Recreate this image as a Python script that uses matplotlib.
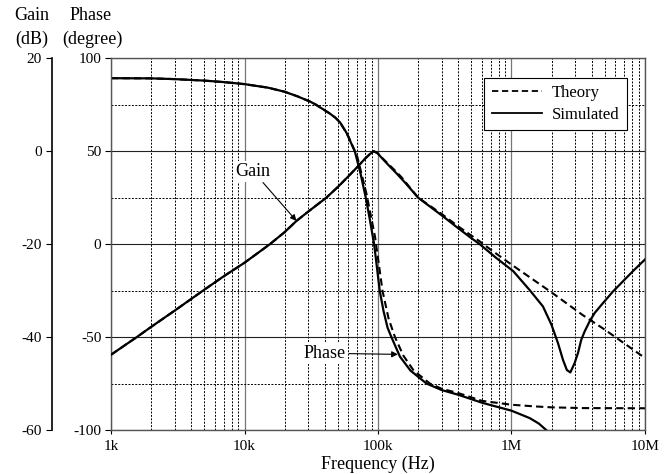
import matplotlib
matplotlib.use('Agg')
import matplotlib.pyplot as plt
from matplotlib.lines import Line2D
from matplotlib.ticker import MultipleLocator, LogLocator, NullFormatter
import numpy as np

plt.rcParams['font.family'] = ['Liberation Serif', 'DejaVu Serif']
plt.rcParams['axes.unicode_minus'] = False

# ---- data ----
gain_sim_f = [1e3, 1.56e3, 2e3, 3e3, 5e3, 7e3, 1e4, 1.55e4, 2e4, 2.45e4, 3e4, 4.1e4,
              5e4, 6e4, 7.1e4, 8e4, 8.7e4, 9.3e4, 9.9e4, 1.08e5, 1.2e5, 1.38e5, 1.6e5,
              2e5, 2.5e5, 3e5, 4e5, 5e5, 5.78e5, 7.71e5, 1.03e6, 1.37e6, 1.72e6, 1.99e6,
              2.23e6, 2.43e6, 2.6e6, 2.76e6, 2.97e6, 3.15e6, 3.33e6, 3.53e6, 3.85e6,
              4.2e6, 4.84e6, 5.75e6, 6.84e6, 8.13e6, 1e7]
gain_sim = [-43.8, -40.0, -37.8, -34.3, -29.8, -26.9, -24.0, -20.0, -17.4, -15.0, -13.0, -10.0,
            -7.7, -5.4, -3.2, -1.6, -0.6, 0.0, -0.4, -1.6, -3.0, -4.8, -6.8,
            -10.0, -12.1, -13.8, -16.6, -18.7, -20.0, -23.0, -25.8, -29.9, -33.4, -37.3,
            -41.3, -44.9, -47.1, -47.6, -45.6, -43.4, -40.6, -38.8, -36.6,
            -34.8, -32.7, -30.2, -28.0, -25.8, -23.3]

gain_th_f = [1e3, 1.56e3, 2e3, 3e3, 5e3, 7e3, 1e4, 1.55e4, 2e4, 2.45e4, 3e4, 4.1e4,
             5e4, 6e4, 7.1e4, 8e4, 8.7e4, 9.3e4, 9.9e4, 1.08e5, 1.2e5, 1.38e5, 1.5e5,
             2e5, 3e5, 4e5, 5.78e5, 7e5, 1e6, 2e6, 3.43e6, 5e6, 1e7]
gain_th = [-43.8, -40.0, -37.8, -34.3, -29.8, -26.9, -24.0, -20.0, -17.4, -15.0, -13.0, -10.0,
           -7.7, -5.4, -3.2, -1.6, -0.6, 0.0, -0.4, -1.5, -2.8, -4.5, -5.6,
           -10.0, -13.5, -16.2, -19.4, -21.2, -24.4, -30.4, -35.3, -38.4, -44.5]

phase_sim_f = [1e3, 2e3, 3e3, 5e3, 7e3, 1e4, 1.5e4, 2e4, 2.5e4, 3.1e4, 3.4e4, 3.7e4, 4e4,
               4.35e4, 4.8e4, 5.2e4, 5.8e4, 6.7e4, 7.4e4, 8.1e4, 8.7e4, 9.35e4, 9.8e4,
               1.03e5, 1.1e5, 1.18e5, 1.26e5, 1.46e5, 1.75e5, 2.31e5, 3e5, 3.98e5, 6e5,
               1e6, 1.37e6, 1.6e6, 1.82e6]
phase_sim = [89.3, 89.2, 88.8, 88.0, 87.2, 86.1, 84.2, 82.0, 79.5, 76.7, 75.2, 73.5, 72.0,
             70.3, 68.0, 65.5, 60.0, 50.0, 38.0, 25.0, 13.0, 0.0, -12.0,
             -25.0, -36.0, -45.0, -50.0, -60.5, -68.0, -75.0, -78.5, -81.0, -85.3,
             -89.6, -93.6, -96.5, -100.0]

phase_th_f = [1e3, 2e3, 3e3, 5e3, 7e3, 1e4, 1.5e4, 2e4, 2.5e4, 3.1e4, 3.4e4, 3.7e4, 4e4,
              4.35e4, 4.8e4, 5.2e4, 6e4, 7e4, 8.2e4, 9.5e4, 1.02e5, 1.08e5, 1.2e5, 1.34e5,
              1.55e5, 1.85e5, 2.45e5, 3e5, 3.98e5, 6e5, 1e6, 1.5e6, 2e6, 3.4e6, 1e7]
phase_th = [89.3, 89.2, 88.8, 88.0, 87.2, 86.1, 84.2, 82.0, 79.5, 76.7, 75.2, 73.5, 72.0,
            70.3, 68.0, 65.5, 58.0, 47.0, 27.0, 4.0, -12.0, -25.0, -40.0, -50.0,
            -60.0, -68.0, -75.0, -77.8, -80.1, -84.3, -86.4, -87.3, -87.8, -88.2, -88.3]

xtick_vals = [1e3, 1e4, 1e5, 1e6, 1e7]
xtick_labels = ['1k', '10k', '100k', '1M', '10M']

# ---- figure ----
fig = plt.figure(figsize=(6.72, 4.74), dpi=100)
ax = fig.add_axes([0.1652, 0.0928, 0.7946, 0.7842])
ax2 = ax.twinx()

ax.set_xscale('log')
ax.set_xlim(1e3, 1e7)
ax.set_ylim(-100, 100)
ax2.set_ylim(-60, 20)

ax.set_xticks(xtick_vals)
ax.set_xticklabels(xtick_labels)
ax.xaxis.set_minor_locator(LogLocator(base=10, subs=np.arange(2, 10)))
ax.xaxis.set_minor_formatter(NullFormatter())
ax.yaxis.set_major_locator(MultipleLocator(50))
ax.yaxis.set_minor_locator(MultipleLocator(25))
ax2.yaxis.set_major_locator(MultipleLocator(20))

# grid
ax.set_axisbelow(True)
ax.grid(which='major', axis='x', color='#777777', lw=0.9, ls='-')
ax.grid(which='major', axis='y', color='#222222', lw=0.8, ls='-')
ax.grid(which='minor', axis='both', color='black', lw=0.7, ls=(0, (2.0, 1.5)))

for s in ax.spines.values():
    s.set_color('#555555')
    s.set_linewidth(1.0)
ax.tick_params(which='major', direction='out', length=4, width=0.8, labelsize=11, pad=3)
ax.tick_params(axis='x', which='major', length=3, pad=4)
ax.tick_params(which='minor', length=0)

# gain axis on the far left
ax2.yaxis.tick_left()
ax2.spines['left'].set_position(('axes', -0.111))
ax2.spines['left'].set_visible(True)
ax2.spines['left'].set_linewidth(1.2)
for side in ['right', 'top', 'bottom']:
    ax2.spines[side].set_visible(False)
ax2.tick_params(axis='y', direction='out', length=4, width=0.8, labelsize=11, pad=3)

# curves
ax.plot(phase_th_f, phase_th, color='black', lw=1.5, ls='--', dashes=(3.5, 2))
ax.plot(phase_sim_f, phase_sim, color='black', lw=1.6)
ax2.plot(gain_th_f, gain_th, color='black', lw=1.5, ls='--', dashes=(3.5, 2))
ax2.plot(gain_sim_f, gain_sim, color='black', lw=1.6)

# annotations
ax2.annotate('Gain', xy=(2.45e4, -15.0), xytext=(1.16e4, -4.3), fontsize=13,
             ha='center', va='center',
             bbox=dict(boxstyle='square,pad=0.1', fc='white', ec='none'),
             arrowprops=dict(arrowstyle='-|>', color='black', lw=0.8,
                             mutation_scale=9, shrinkA=1, shrinkB=0))
ax.annotate('Phase', xy=(1.41e5, -59.3), xytext=(4.0e4, -58.7), fontsize=13,
            ha='center', va='center',
            bbox=dict(boxstyle='square,pad=0.1', fc='white', ec='none'),
            arrowprops=dict(arrowstyle='-|>', color='black', lw=0.8,
                            mutation_scale=9, shrinkA=1, shrinkB=0))

# legend
handles = [Line2D([], [], color='black', lw=1.3, ls='--', dashes=(3.5, 2)),
           Line2D([], [], color='black', lw=1.3)]
leg = ax2.legend(handles, ['Theory', 'Simulated'], loc='upper right',
                 bbox_to_anchor=(0.966, 0.948), borderaxespad=0, fontsize=12,
                 frameon=True, fancybox=False, edgecolor='black', framealpha=1,
                 handlelength=3.0, handletextpad=0.6, borderpad=0.45, labelspacing=0.35)
leg.get_frame().set_linewidth(0.8)

ax.set_xlabel('Frequency (Hz)', fontsize=13, labelpad=2)

# axis headers
fig.text(32 / 672, 1 - 16 / 474, 'Gain', ha='center', va='center', fontsize=13)
fig.text(32 / 672, 1 - 39 / 474, '(dB)', ha='center', va='center', fontsize=13)
fig.text(91 / 672, 1 - 16 / 474, 'Phase', ha='center', va='center', fontsize=13)
fig.text(92 / 672, 1 - 39 / 474, '(degree)', ha='center', va='center', fontsize=13)

fig.savefig('out.png', dpi=100)
